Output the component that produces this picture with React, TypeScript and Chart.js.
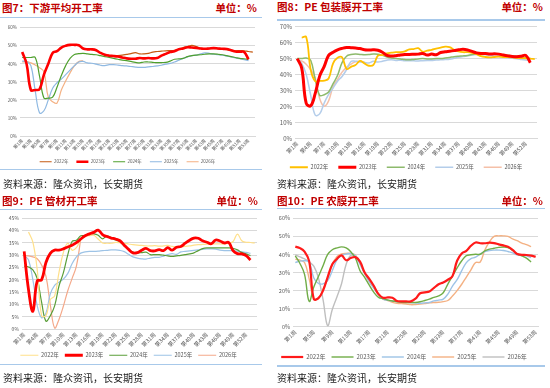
import React, { useEffect, useRef } from "react";
import { Chart, registerables } from "chart.js";
Chart.register(...registerables);

const FONT = '"Noto Sans CJK SC", "Noto Sans", sans-serif';

const weeks = (n: number) => Array.from({ length: n }, (_, i) => `第${i + 1}周`);
const WEEKS_54 = weeks(54);
const WEEKS_53 = weeks(53);
const YEARS = ["2022年", "2023年", "2024年", "2025年", "2026年"];

// 图7 下游平均开工率
const f7_2022 = [null, null, null, null, null, null, null, null, null, null, null, null, null, null, null, null, null, null, null, null, null,
  44.3, 44.5, 44.8, 45.2, 45.6, 46.2, 45.5, 45.5, 45.8, 46.5, 46.8, 47, 47.2, 47.3, 47.5, 48, 49, 49.6, 50.2, 49.5, 48.6, 48.3, 48.4, 48.5, 48.3, 48, 47.8, 47.4, 47.2, 47.3, 47.2, 46.8, 46.5];
const f7_2023 = [46.5, 40, 25.5, 25.5, 26, 34, 40, 46, 47, 49, 50, 50.5, 50.5, 50.3, 48.5, 48, 48, 47.5, 46, 45, 44.5, 44.3, 44, 43.5, 43, 42.8, 42.8, 43.2, 43, 43.2, 43, 43.2, 44.5, 45.5, 46.5, 47, 48, 48.5, 49.2, 49, 48.8, 48.5, 48.3, 48.5, 48.7, 48.5, 48.3, 48.2, 47.5, 46.8, 46.7, 46.5, 42.5];
const f7_2024 = [43.5, 43.5, 43.5, 43.5, 33, 21, 21, 21.5, 27, 33.5, 39, 43, 45.2, 45.6, 45.8, 45.5, 45.2, 45, 44.5, 44, 43.5, 43, 42.5, 42, 41.8, 41.3, 40.8, 40.5, 41, 41, 40.8, 40.6, 40.7, 40.8, 41.5, 42.5, 42.7, 43, 44, 44.5, 44.8, 45, 45.3, 45.5, 45.5, 45.3, 45, 44.5, 44, 43.5, 43, 42.8, 42.5];
const f7_2025 = [41.5, 41.2, 39, 25, 12.8, 14, 20, 26.5, 29.5, 31.5, 34, 36.5, 39, 41, 41.3, 40.5, 40.3, 39.8, 39.2, 39, 39.5, 39.5, 39.3, 39, 38.8, 38.5, 38.2, 38, 38, 38.3, 38.5, 38.8, 39.2, 39.8, 40.2, 41, 42, 43, 43.8, 44.5, 44.8, 45.5, 46, 45.8, 45.3, 45, 44.8, 44.3, 43.8, 43.3, 42.8, 42.3, 41.8];
const f7_2026 = [41, 41.2, 40.5, 39.3, 37.8, 35.5, 21.5, 19, 18.2, 25.5, 30.5, 35, 38.8, 41.2, 41.7];

// 图8 PE 包装膜开工率
const f8_2022 = [null, 63.2, 63.5, 43, 35.8, 36, 36.2, 37.5, 47, 50.5, 50.8, 43.5, 44.8, 46, 48.5, 47, 45.5, 46, 51.8, 52.2, 53.3, 53.7, 54, 54, 54.5, 55.8, 56, 56.5, 54.3, 55, 55.5, 56.3, 56.8, 57.5, 57.2, 55.5, 54.5, 54, 54, 53.6, 52.8, 51.5, 51, 50.8, 51, 51.2, 51, 51, 50.8, 50.5, 50.3, 50.2, 50, 49.7];
const f8_2023 = [50, 44, 22, 20.4, 28, 39, 45, 52, 54, 55.5, 56.4, 57, 56.8, 56.6, 56.3, 55.5, 55.4, 55.5, 55.2, 54, 52, 51.6, 51.8, 52.3, 52.6, 52.6, 52.7, 52.8, 53.2, 52.2, 52.8, 52.4, 53.8, 54.3, 54.6, 55, 55.5, 55.8, 55.4, 54.5, 53.6, 53.2, 53.2, 52.9, 53, 52.8, 52.2, 51.7, 51.3, 51.2, 51.5, 52, 47.4];
const f8_2024 = [50, 50, 50.3, 49, 37, 27, 27.3, 29, 34.3, 39.5, 47.5, 51.5, 52.5, 52.8, 52.6, 52.4, 52.5, 52.8, 52.7, 52, 51, 50.4, 50, 49.8, 49.4, 49.2, 49.5, 49.8, 50, 49.8, 49.8, 50, 50, 50.3, 50.7, 51.2, 51.5, 51.7, 52, 52.5, 52.8, 52.8, 52.8, 52.8, 52.7, 52.6, 52.4, 52.1, 51.8, 51.4, 51, 50.7, 50];
const f8_2025 = [50, 47, 40, 27, 14.6, 15.3, 22, 27.5, 31.5, 35.8, 38.8, 43, 48.2, 48.3, 48, 47.6, 47.3, 48.3, 47.8, 48.3, 49, 49.3, 48.8, 49, 48.7, 48.6, 48.6, 48.5, 48.7, 48.8, 48.8, 49.1, 49.2, 49.4, 49.6, 50.2, 50.8, 51.3, 51.7, 52.2, 52.5, 52.6, 52.4, 52, 51.6, 51.3, 50.9, 50.6, 50.2, 49.9, 49.5, 49.1, 48.7];
const f8_2026 = [49, 48.5, 46.5, 43, 38, 25, 20.2, 23.5, 32.5, 37, 41.5, 44.5, 46.5, 48, 48, 48];

// 图9 PE 管材开工率
const f9_2022 = [null, 39.3, 35.2, 24, 5.5, 5.5, 12, 13.5, 23, 31, 34.8, 32, 33, 36.2, 37.5, 37.9, 38, 36.5, 34.9, 34.8, 34.8, 35.1, 35, 34.8, 34.5, 34.2, 34, 33.9, 33.7, 33.7, 33.8, 33.6, 33.7, 33.9, 33.5, 33.4, 33.4, 33.5, 33.7, 34, 34.2, 34.3, 34.4, 34.5, 34.5, 34.5, 34.5, 34.8, 35.5, 38.5, 35.8, 35.2, 35.1, 34.9];
const f9_2023 = [31.5, 16, 7.3, 19.6, 20, 27, 30.7, 32, 32, 32.5, 33.3, 34, 35, 36.5, 37.8, 38.6, 39.2, 40.1, 38.3, 37.5, 36.9, 36.5, 35.8, 34, 32.3, 30.9, 31, 32, 32.7, 31.8, 31.7, 32.2, 31.8, 33, 32, 33.2, 33.5, 34.8, 36, 36.9, 36.8, 35.8, 35.2, 34.6, 36.1, 35.7, 34.9, 35.1, 31.8, 30.6, 30.5, 29.8, 28];
const f9_2024 = [25.6, 25.2, 24, 20.5, 11, 3.3, 5.5, 9.5, 17.5, 22.8, 30, 35.5, 36, 37.8, 37.9, 38.6, 38.6, 38, 36.6, 37.8, 37, 36.1, 35.3, 33.7, 32.2, 31.2, 30.9, 31, 31.2, 30.2, 30.2, 30.2, 30, 29.7, 29.5, 29.7, 29.9, 30.2, 30.5, 30.9, 31.8, 32.6, 32.9, 32.9, 32.9, 32.9, 32.9, 32.9, 32.7, 32.1, 31.1, 30.5, 29.8];
const f9_2025 = [29.8, 28, 20, 9.5, 4.7, 6.5, 14.3, 17.8, 19, 20.3, 22.5, 26.5, 29.3, 30.8, 31.3, 31.5, 31.5, 31.6, 31.8, 31.9, 32.1, 32.1, 31.9, 31.4, 30.3, 29.3, 28.8, 28.5, 28.4, 28.8, 29.1, 29.1, 29.6, 30.2, 30.6, 30.3, 31.3, 31.5, 31.7, 31.9, 32.1, 32.3, 32.5, 32.5, 32.4, 32, 31.8, 31.8, 31.8, 31.6, 31.3, 31.1, 30.7];
const f9_2026 = [29.8, 29.7, 29.3, 28.5, 26, 21.5, 10, 0.5, 4, 9.3, 15.5, 20.5, 25.5, 36.5];

// 图10 PE 农膜开工率
const f10_2022 = [44.3, 43.5, 41.5, 36.3, 15.3, 15.8, 20, 27.5, 34.5, 37.5, 39.5, 36.8, 38, 38.5, 36, 30, 26.5, 22.5, 18, 16, 16.2, 16, 14.2, 14, 14, 14, 15.5, 18.5, 19, 19.5, 21.5, 23.5, 24.5, 26, 28, 36.5, 40.5, 42, 44.8, 46.6, 46.2, 46.2, 46.5, 46.3, 45.6, 45, 44.2, 42.5, 40.2, 39.8, 39.7, 39.3, 38.7];
const f10_2023 = [39.2, 35, 29, 14, 22, 27.8, 33.7, 40, 42.6, 43.6, 44.2, 43.6, 41.5, 38, 31, 27.3, 23, 19, 16.2, 15.5, 14.8, 14.2, 13.8, 13.5, 13.4, 13.4, 13.4, 13.8, 14.5, 15.3, 16.2, 17, 18.8, 23.6, 28, 32.5, 36.5, 39.3, 39.8, 40.1, 40.1, 42, 42.9, 43.4, 43.9, 44.1, 43.8, 42.3, 40.3, 39.2, 38, 35.8];
const f10_2024 = [35.5, 36.3, 36.5, 35.8, 27, 24, 23.7, 25.5, 31, 37, 39.5, 40.2, 40.5, 39.3, 34.5, 29.5, 25, 21.2, 17.8, 15.3, 14.6, 14.2, 13.9, 13.7, 13.5, 13.4, 13.2, 13, 13.2, 13.4, 14.3, 14.7, 15.3, 18, 22.5, 26, 31, 35.5, 37.7, 38.5, 40.3, 41.6, 42.2, 42.4, 42.4, 42.2, 41.6, 40.9, 39.8, 39.4, 39.2, 38.2];
const f10_2025 = [37.4, 36.8, 35.5, 26.5, 15.5, 15.6, 20.8, 26.5, 34.5, 38.8, 40.3, 40.6, 40.6, 39.6, 35.5, 29.5, 25, 21.5, 18, 15.2, 14.5, 13.5, 13, 12.8, 12.6, 12.2, 12.3, 12.5, 12.8, 13.2, 13.4, 13.5, 13.9, 14.5, 17, 20, 23.5, 27.5, 31.5, 35.5, 35.8, 42.5, 47, 50, 50.3, 50.3, 50, 48.6, 47.6, 46.3, 45.4, 44.3];
const f10_2026 = [39.8, 38.6, 37.5, 35.8, 33.5, 27, 15, 0.5, 9.5, 16.5, 23.8, 34.6, 39.5, 38.8];

type Series = { label: string; data: (number | null)[]; color: string; width: number; order: number };
type Cfg = {
  left: number; top: number; width: number; height: number;
  plotLeft: number; plotRight: number; plotTop: number; plotBottom: number;
  yMax: number; yStep: number; yTick: number; xTick: number; every: number;
  legendSize: number; legendPad: number; legendLine: number;
  labels: string[]; series: Series[];
};

function LineChart({ cfg }: { cfg: Cfg }) {
  const ref = useRef<HTMLCanvasElement>(null);
  useEffect(() => {
    const c = cfg;
    const legendH = c.legendSize + c.legendPad + 10;
    const xH = c.top + c.height - legendH - c.plotBottom;
    const chart = new Chart(ref.current as HTMLCanvasElement, {
      type: "line",
      data: {
        labels: c.labels,
        datasets: c.series.map((s) => ({
          label: s.label, data: s.data, borderColor: s.color, backgroundColor: s.color,
          borderWidth: s.width, pointRadius: 0, tension: 0.4, fill: false, order: s.order,
        })),
      },
      options: {
        responsive: false,
        animation: false,
        layout: { padding: { top: c.plotTop - c.top, right: c.left + c.width - c.plotRight, left: 0, bottom: 0 } },
        plugins: {
          tooltip: { enabled: false },
          legend: {
            position: "bottom",
            labels: {
              usePointStyle: true, pointStyle: "line", pointStyleWidth: c.legendLine,
              padding: c.legendPad, color: "#595959",
              font: { size: c.legendSize, family: FONT },
              sort: (a: any, b: any) => a.datasetIndex - b.datasetIndex,
            },
          },
        },
        scales: {
          x: {
            offset: true,
            grid: { display: false, drawTicks: false, tickLength: 0 },
            border: { display: true, color: "#D9D9D9" },
            ticks: {
              autoSkip: false, minRotation: 45, maxRotation: 45, padding: 2, color: "#595959",
              font: { size: c.xTick, family: FONT },
              callback: (_v: any, i: number) => (i % c.every === 0 ? c.labels[i] : ""),
            },
            afterFit: (s: any) => {
              s.height = xH;
              // let the rotated week labels run past the fixed axis box
              s._computeLabelArea = () => undefined;
            },
          },
          y: {
            min: 0, max: c.yMax,
            grid: { color: "#D9D9D9", drawTicks: false },
            border: { display: false },
            ticks: {
              stepSize: c.yStep, padding: 3, color: "#595959",
              font: { size: c.yTick, family: FONT },
              callback: (v: any) => `${v}%`,
            },
            afterFit: (s: any) => { s.width = c.plotLeft - c.left; },
          },
        },
      } as any,
    });
    return () => chart.destroy();
  }, [cfg]);
  return (
    <canvas ref={ref} width={cfg.width} height={cfg.height}
      style={{ position: "absolute", left: cfg.left, top: cfg.top, width: cfg.width, height: cfg.height }} />
  );
}

const cfg7: Cfg = {
  left: 0, top: 18, width: 264, height: 156,
  plotLeft: 20, plotRight: 255, plotTop: 27.7, plotBottom: 136,
  yMax: 60, yStep: 10, yTick: 4.5, xTick: 4.5, every: 2,
  legendSize: 4.5, legendPad: 8, legendLine: 12,
  labels: WEEKS_54,
  series: [
    { label: YEARS[0], data: f7_2022, color: "#C55A11", width: 1.2, order: 1 },
    { label: YEARS[1], data: f7_2023, color: "#FF0000", width: 2.6, order: 0 },
    { label: YEARS[2], data: f7_2024, color: "#4FA02E", width: 1.2, order: 2 },
    { label: YEARS[3], data: f7_2025, color: "#8FB9E2", width: 1.2, order: 3 },
    { label: YEARS[4], data: f7_2026, color: "#F4B183", width: 1.2, order: 4 },
  ],
};

const cfg8: Cfg = {
  left: 275, top: 18, width: 270, height: 162,
  plotLeft: 295, plotRight: 537, plotTop: 26.7, plotBottom: 138.3,
  yMax: 70, yStep: 10, yTick: 6, xTick: 5.5, every: 3,
  legendSize: 5.5, legendPad: 10, legendLine: 18,
  labels: WEEKS_54,
  series: [
    { label: YEARS[0], data: f8_2022, color: "#FFC000", width: 1.8, order: 1 },
    { label: YEARS[1], data: f8_2023, color: "#FF0000", width: 3, order: 0 },
    { label: YEARS[2], data: f8_2024, color: "#8DBA6C", width: 1.5, order: 2 },
    { label: YEARS[3], data: f8_2025, color: "#B4CDEA", width: 1.5, order: 3 },
    { label: YEARS[4], data: f8_2026, color: "#F5C0A8", width: 1.5, order: 4 },
  ],
};

const cfg9: Cfg = {
  left: 0, top: 212, width: 265, height: 156,
  plotLeft: 22, plotRight: 257, plotTop: 218, plotBottom: 329.3,
  yMax: 45, yStep: 5, yTick: 5, xTick: 5.5, every: 3,
  legendSize: 5.5, legendPad: 6, legendLine: 18,
  labels: WEEKS_54,
  series: [
    { label: YEARS[0], data: f9_2022, color: "#FFE08A", width: 1.2, order: 1 },
    { label: YEARS[1], data: f9_2023, color: "#FF0000", width: 2.8, order: 0 },
    { label: YEARS[2], data: f9_2024, color: "#5A9E38", width: 1.2, order: 2 },
    { label: YEARS[3], data: f9_2025, color: "#9DC3E6", width: 1.2, order: 3 },
    { label: YEARS[4], data: f9_2026, color: "#F4A98A", width: 1.2, order: 4 },
  ],
};

const cfg10: Cfg = {
  left: 270, top: 212, width: 275, height: 158,
  plotLeft: 293, plotRight: 538, plotTop: 218, plotBottom: 326.7,
  yMax: 60, yStep: 10, yTick: 5.5, xTick: 5.5, every: 4,
  legendSize: 6, legendPad: 6, legendLine: 22,
  labels: WEEKS_53,
  series: [
    { label: YEARS[0], data: f10_2022, color: "#FF1A1A", width: 2.2, order: 0 },
    { label: YEARS[1], data: f10_2023, color: "#70AD47", width: 1.4, order: 1 },
    { label: YEARS[2], data: f10_2024, color: "#9DC3E6", width: 1.4, order: 2 },
    { label: YEARS[3], data: f10_2025, color: "#F4B183", width: 1.4, order: 3 },
    { label: YEARS[4], data: f10_2026, color: "#BFBFBF", width: 1.4, order: 4 },
  ],
};

const TITLE_COLOR = "#C00000";
const titleBase: React.CSSProperties = {
  position: "absolute", fontFamily: FONT, fontWeight: 700, fontSize: 10.5,
  color: TITLE_COLOR, lineHeight: "12px", whiteSpace: "nowrap",
};
const footBase: React.CSSProperties = {
  position: "absolute", fontFamily: FONT, fontWeight: 400, fontSize: 10,
  color: "#1a1a1a", lineHeight: "12px", whiteSpace: "nowrap",
};
const rule = (left: number, top: number, width: number): React.CSSProperties => ({
  position: "absolute", left, top, width, height: 1.5, background: "#A8C9EA",
});

const SOURCE = "资料来源：隆众资讯，长安期货";

export default function App() {
  return (
    <div style={{ position: "fixed", left: 0, top: 0, width: 550, height: 388, background: "#fff", overflow: "hidden" }}>
      {/* panel 1 */}
      <div style={{ ...titleBase, left: 2, top: 2 }}>图7：下游平均开工率</div>
      <div style={{ ...titleBase, right: 293, top: 2 }}>单位：%</div>
      <div style={rule(0, 16.5, 262)} />
      <LineChart cfg={cfg7} />
      <div style={rule(0, 168.5, 262)} />
      <div style={{ ...footBase, left: 3, top: 178 }}>{SOURCE}</div>

      {/* panel 2 */}
      <div style={{ ...titleBase, left: 277, top: 1 }}>图8：PE 包装膜开工率</div>
      <div style={{ ...titleBase, right: 7, top: 1 }}>单位：%</div>
      <div style={rule(277, 19, 268)} />
      <LineChart cfg={cfg8} />
      <div style={{ ...footBase, left: 277, top: 178 }}>{SOURCE}</div>

      {/* panel 3 */}
      <div style={{ ...titleBase, left: 2, top: 195 }}>图9：PE 管材开工率</div>
      <div style={{ ...titleBase, right: 292, top: 195 }}>单位：%</div>
      <div style={rule(0, 208.5, 262)} />
      <LineChart cfg={cfg9} />
      <div style={rule(0, 363.5, 262)} />
      <div style={{ ...footBase, left: 3, top: 372 }}>{SOURCE}</div>

      {/* panel 4 */}
      <div style={{ ...titleBase, left: 277, top: 194.5 }}>图10：PE 农膜开工率</div>
      <div style={{ ...titleBase, right: 7, top: 194.5 }}>单位：%</div>
      <div style={rule(277, 207.5, 268)} />
      <LineChart cfg={cfg10} />
      <div style={rule(277, 365, 268)} />
      <div style={{ ...footBase, left: 277, top: 372 }}>{SOURCE}</div>
    </div>
  );
}
